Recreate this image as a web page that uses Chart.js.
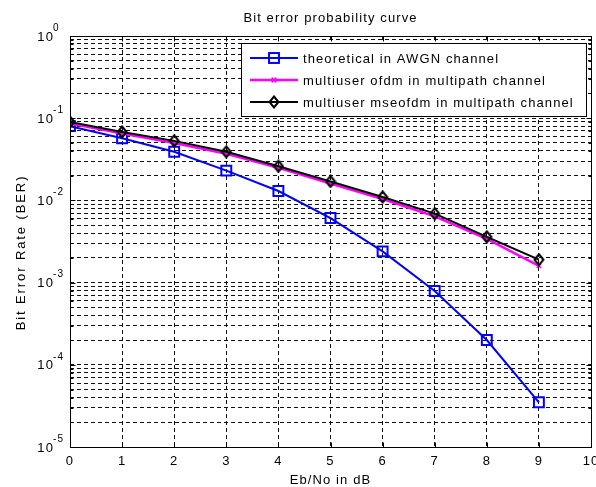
<!DOCTYPE html>
<html>
<head>
<meta charset="utf-8">
<script src="https://cdn.jsdelivr.net/npm/chart.js@4.4.0/dist/chart.umd.min.js"></script>
<style>
  body { margin: 0; background: #fff; }
</style>
</head>
<body>
<canvas id="berChart" width="596" height="487"></canvas>
<script>
// values
const ebno = [0, 1, 2, 3, 4, 5, 6, 7, 8, 9];
const berTheory = [0.080, 0.057, 0.039, 0.023, 0.013, 0.0061, 0.0024, 0.00079, 0.00020, 0.000035];
const berOfdm = [0.086, 0.065, 0.050, 0.037, 0.025, 0.016, 0.0104, 0.0064, 0.0034, 0.0016];
const berMseofdm = [0.090, 0.068, 0.053, 0.039, 0.026, 0.017, 0.011, 0.0069, 0.0036, 0.0019];
const seriesNames = [
  'theoretical in AWGN channel',
  'multiuser ofdm in multipath channel',
  'multiuser mseofdm in multipath channel'
];
const xTicks = [0, 1, 2, 3, 4, 5, 6, 7, 8, 9, 10];
const yDecades = [-5, -4, -3, -2, -1, 0];

const FONT = '"Liberation Sans", Arial, Helvetica, sans-serif';
const SPACING = '1.1px';

// log ticks: 1..9 in each decade, last one is 10^0
const yTicks = [];
yDecades.forEach(e => {
  if (e === 0) { yTicks.push(1); return; }
  for (let m = 1; m <= 9; m++) yTicks.push(Number((m * Math.pow(10, e)).toPrecision(3)));
});

const toPoints = ys => ebno.map((x, i) => ({ x: x, y: ys[i] }));

// diamond marker like matlab 'd'
function makeDiamond(color) {
  const c = document.createElement('canvas');
  c.width = 12; c.height = 14;
  const g = c.getContext('2d');
  g.strokeStyle = color;
  g.lineWidth = 2;
  g.beginPath();
  g.moveTo(6, 1.5);
  g.lineTo(10.5, 7);
  g.lineTo(6, 12.5);
  g.lineTo(1.5, 7);
  g.closePath();
  g.stroke();
  return c;
}
const diamond = makeDiamond('#000000');

const alignPx = v => Math.round(v) + 0.5;

// wider text like the matlab screen fonts
const spacing = {
  id: 'spacing',
  beforeUpdate(chart) { chart.ctx.letterSpacing = SPACING; },
  beforeDraw(chart) { chart.ctx.letterSpacing = SPACING; }
};

const matlabAxes = {
  id: 'matlabAxes',
  afterDraw(chart) {
    const ctx = chart.ctx;
    const area = chart.chartArea;
    const xs = chart.scales.x, ys = chart.scales.y;
    const L = alignPx(area.left), R = alignPx(area.right);
    const T = alignPx(area.top), B = alignPx(area.bottom);
    ctx.save();
    ctx.letterSpacing = SPACING;
    ctx.strokeStyle = '#000';
    ctx.lineWidth = 1;
    ctx.setLineDash([]);
    ctx.strokeRect(L, T, R - L, B - T);

    // inward ticks
    ctx.beginPath();
    yTicks.forEach(v => {
      const py = alignPx(ys.getPixelForValue(v));
      const major = Math.abs(Math.log10(v) - Math.round(Math.log10(v))) < 1e-9;
      const len = major ? 5 : 3;
      ctx.moveTo(L, py); ctx.lineTo(L + len, py);
      ctx.moveTo(R, py); ctx.lineTo(R - len, py);
    });
    xTicks.forEach(v => {
      const px = alignPx(xs.getPixelForValue(v));
      ctx.moveTo(px, B); ctx.lineTo(px, B - 5);
      ctx.moveTo(px, T); ctx.lineTo(px, T + 5);
    });
    ctx.stroke();

    // y tick labels 10^n
    ctx.fillStyle = '#000';
    yDecades.forEach(e => {
      const py = ys.getPixelForValue(Math.pow(10, e));
      ctx.font = '13px ' + FONT;
      ctx.textAlign = 'right';
      ctx.textBaseline = 'middle';
      ctx.fillText('10', area.left - 16, py + 1);
      ctx.font = '10px ' + FONT;
      ctx.textAlign = 'left';
      ctx.fillText(e === 0 ? '0' : '-' + Math.abs(e), area.left - 17, py - 8);
    });

    // y axis title
    ctx.save();
    ctx.font = '13px ' + FONT;
    ctx.letterSpacing = '1.9px';
    ctx.textAlign = 'center';
    ctx.textBaseline = 'middle';
    ctx.translate(area.left - 49, (area.top + area.bottom) / 2 + 11);
    ctx.rotate(-Math.PI / 2);
    ctx.fillText('Bit Error Rate (BER)', 0, 0);
    ctx.restore();

    // legend box
    ctx.font = '13px ' + FONT;
    let maxW = 0;
    seriesNames.forEach(s => { maxW = Math.max(maxW, ctx.measureText(s).width); });
    const boxW = Math.round(62 + maxW + 12);
    const boxR = Math.round(area.right) - 5;
    const boxL = boxR - boxW;
    const boxT = Math.round(area.top) + 7;
    const boxH = 73;
    ctx.fillStyle = '#fff';
    ctx.fillRect(boxL, boxT, boxW, boxH);
    ctx.strokeStyle = '#000';
    ctx.lineWidth = 1;
    ctx.strokeRect(boxL + 0.5, boxT + 0.5, boxW, boxH);

    const dsets = chart.data.datasets;
    dsets.forEach((ds, i) => {
      const y = boxT + 15 + i * 22;
      const x0 = boxL + 9, x1 = boxL + 57, xm = (x0 + x1) / 2;
      ctx.strokeStyle = ds.borderColor;
      ctx.lineWidth = ds.borderWidth;
      ctx.beginPath();
      ctx.moveTo(x0, y); ctx.lineTo(x1, y);
      ctx.stroke();
      ctx.lineWidth = ds.pointBorderWidth;
      if (ds.pointStyle === 'rect') {
        const s = ds.pointRadius * Math.SQRT1_2;
        ctx.strokeRect(xm - s, y - s, 2 * s, 2 * s);
      } else if (ds.pointStyle === 'crossRot') {
        const s = ds.pointRadius * 0.8;
        ctx.beginPath();
        ctx.moveTo(xm - s, y - s); ctx.lineTo(xm + s, y + s);
        ctx.moveTo(xm - s, y + s); ctx.lineTo(xm + s, y - s);
        ctx.stroke();
      } else {
        ctx.drawImage(ds.pointStyle, xm - ds.pointStyle.width / 2, y - ds.pointStyle.height / 2);
      }
      ctx.fillStyle = '#000';
      ctx.textAlign = 'left';
      ctx.textBaseline = 'middle';
      ctx.fillText(seriesNames[i], boxL + 62, y + 1);
    });
    ctx.restore();
  }
};

const ctx = document.getElementById('berChart').getContext('2d');
new Chart(ctx, {
  type: 'line',
  data: {
    datasets: [
      {
        label: seriesNames[0],
        data: toPoints(berTheory),
        borderColor: '#0000ff',
        borderWidth: 2,
        pointStyle: 'rect',
        pointRadius: 7,
        pointBorderWidth: 2,
        pointBorderColor: '#0000ff',
        pointBackgroundColor: 'rgba(0,0,0,0)',
        order: 2
      },
      {
        label: seriesNames[1],
        data: toPoints(berOfdm),
        borderColor: '#ff00ff',
        borderWidth: 2.5,
        pointStyle: 'crossRot',
        pointRadius: 3,
        pointBorderWidth: 1.5,
        pointBorderColor: '#ff00ff',
        order: 1
      },
      {
        label: seriesNames[2],
        data: toPoints(berMseofdm),
        borderColor: '#000000',
        borderWidth: 2,
        pointStyle: diamond,
        pointRadius: 6,
        pointBorderWidth: 2,
        pointBorderColor: '#000000',
        order: 0
      }
    ]
  },
  options: {
    responsive: false,
    animation: false,
    layout: { autoPadding: false, padding: { left: 0, right: 5, top: 0, bottom: 0 } },
    plugins: {
      legend: { display: false },
      tooltip: { enabled: false },
      title: {
        display: true,
        fullSize: false,
        text: 'Bit error probability curve',
        color: '#000',
        font: { family: FONT, size: 13, weight: 'normal', lineHeight: 1 },
        padding: { top: 11.5, bottom: 11.5 }
      }
    },
    scales: {
      x: {
        type: 'linear',
        min: 0,
        max: 10,
        afterBuildTicks: s => { s.ticks = xTicks.map(v => ({ value: v })); },
        afterFit: s => { s.height = 40; s.paddingLeft = 0; s.paddingRight = 0; },
        ticks: {
          color: '#000',
          font: { family: FONT, size: 13 },
          padding: 7,
          maxRotation: 0,
          autoSkip: false
        },
        grid: { color: '#111', lineWidth: 1, drawTicks: false },
        border: { display: false, dash: [4, 3] },
        title: {
          display: true,
          text: 'Eb/No in dB',
          color: '#000',
          font: { family: FONT, size: 13, lineHeight: 1 },
          padding: { top: 0, bottom: 0 }
        }
      },
      y: {
        type: 'logarithmic',
        min: 1e-5,
        max: 1,
        afterBuildTicks: s => { s.ticks = yTicks.map(v => ({ value: v })); },
        afterFit: s => { s.width = 70; },
        ticks: { display: false },
        grid: { color: '#111', lineWidth: 1, drawTicks: false },
        border: { display: false, dash: [4, 3] }
      }
    }
  },
  plugins: [spacing, matlabAxes]
});
</script>
</body>
</html>
